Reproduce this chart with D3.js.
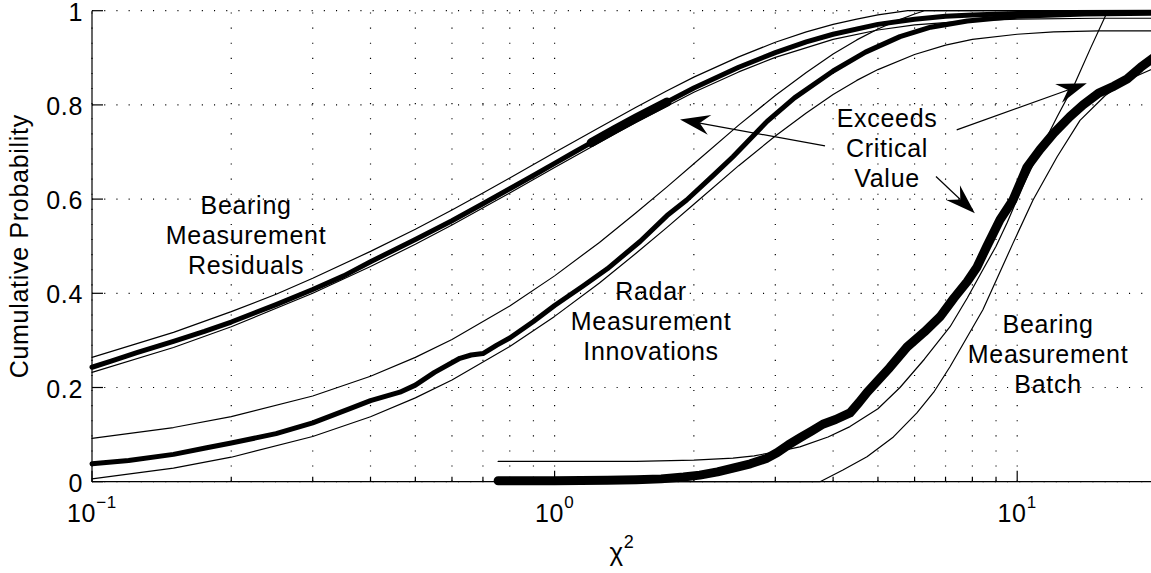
<!DOCTYPE html>
<html>
<head>
<meta charset="utf-8">
<script src="https://cdn.jsdelivr.net/npm/d3@7"></script>
<style>
  html, body { margin: 0; padding: 0; background: #fff; }
  svg { display: block; }
  text { font-family: "Liberation Sans", Arial, Helvetica, sans-serif; fill: #000; letter-spacing: 0.7px; }
</style>
</head>
<body>
<svg id="chart" width="1151" height="573"></svg>
<script>
// ---------- data (x = chi-square value, p = cumulative probability) ----------
const residualsObserved = [[0.1,0.243],[0.11,0.256],[0.125,0.274],[0.15,0.298],[0.175,0.319],[0.2,0.339],[0.25,0.376],[0.3,0.408],[0.35,0.437],[0.4,0.467],[0.45,0.492],[0.5,0.514],[0.6,0.554],[0.7,0.590],[0.8,0.622],[0.9,0.650],[1.0,0.676],[1.1,0.699],[1.2,0.720],[1.35,0.748],[1.5,0.772],[1.75,0.806],[2.0,0.836],[2.5,0.880],[3.0,0.911],[3.5,0.934],[4,0.950],[5,0.971],[6,0.982],[7,0.988],[8,0.991],[10,0.994],[13,0.996],[20,0.997]];
const residualsUpper = [[0.1,0.264],[0.125,0.293],[0.15,0.317],[0.2,0.361],[0.25,0.398],[0.3,0.432],[0.4,0.489],[0.5,0.536],[0.6,0.577],[0.7,0.613],[0.8,0.645],[1,0.699],[1.25,0.752],[1.5,0.795],[1.75,0.830],[2,0.859],[2.5,0.902],[3,0.933],[3.5,0.955],[4,0.971],[4.5,0.982],[5,0.991],[5.5,0.997],[5.8,1.0],[20,1.0]];
const residualsLower = [[0.1,0.232],[0.15,0.285],[0.2,0.329],[0.3,0.400],[0.4,0.457],[0.5,0.504],[0.6,0.545],[0.8,0.613],[1,0.667],[1.25,0.720],[1.5,0.763],[2,0.827],[2.5,0.870],[3,0.901],[4,0.939],[5,0.959],[6,0.970],[8,0.979],[10,0.982],[15,0.984],[20,0.984]];

const radarObserved = [[0.1,0.038],[0.12,0.045],[0.15,0.058],[0.177,0.072],[0.2,0.082],[0.25,0.102],[0.3,0.125],[0.361,0.155],[0.4,0.172],[0.463,0.19],[0.5,0.205],[0.55,0.232],[0.624,0.262],[0.66,0.269],[0.7,0.272],[0.75,0.29],[0.8,0.305],[0.9,0.34],[1.0,0.374],[1.15,0.415],[1.3,0.452],[1.53,0.51],[1.75,0.565],[1.93,0.598],[2.2,0.65],[2.43,0.69],[2.88,0.765],[3.3,0.815],[4.0,0.872],[4.7,0.912],[5.58,0.945],[6.5,0.965],[7.8,0.978],[10,0.988],[14,0.993],[20,0.995]];
const radarUpper = [[0.1,0.092],[0.15,0.115],[0.2,0.138],[0.3,0.182],[0.4,0.224],[0.5,0.264],[0.6,0.302],[0.8,0.373],[1.0,0.437],[1.25,0.508],[1.5,0.571],[1.75,0.626],[2.0,0.675],[2.5,0.757],[3.0,0.820],[3.5,0.869],[4.0,0.908],[4.5,0.938],[5.0,0.961],[5.5,0.979],[6.0,0.993],[6.3,1.0],[20,1.0]];
const radarLower = [[0.1,0.006],[0.15,0.029],[0.2,0.052],[0.3,0.096],[0.4,0.138],[0.5,0.178],[0.6,0.216],[0.8,0.287],[1.0,0.351],[1.25,0.422],[1.5,0.485],[1.75,0.540],[2,0.589],[2.5,0.671],[3,0.734],[3.5,0.783],[4,0.822],[4.5,0.852],[5,0.875],[6,0.907],[7,0.927],[8,0.939],[10,0.950],[12,0.955],[15,0.957],[20,0.957]];

const batchObserved = [[0.755,0.002],[1.0,0.002],[1.3,0.003],[1.5,0.004],[1.7,0.006],[1.9,0.010],[2.06,0.014],[2.25,0.021],[2.43,0.029],[2.65,0.038],[2.88,0.050],[3.03,0.062],[3.2,0.078],[3.39,0.093],[3.6,0.108],[3.8,0.122],[4.05,0.132],[4.35,0.146],[4.55,0.168],[4.74,0.19],[5.0,0.215],[5.3,0.242],[5.78,0.286],[6.3,0.318],[6.81,0.35],[7.3,0.39],[7.8,0.425],[8.19,0.456],[8.6,0.50],[9.18,0.556],[9.79,0.598],[10.5,0.668],[11.2,0.705],[12,0.74],[13,0.775],[13.88,0.80],[15,0.825],[16.2,0.84],[17.28,0.855],[18.5,0.88],[20,0.905]];
const batchUpper = [[0.755,0.043],[1.0,0.043],[1.5,0.043],[2.0,0.046],[2.43,0.05],[2.7,0.055],[3.03,0.064],[3.39,0.074],[3.9,0.095],[4.35,0.117],[5.0,0.155],[5.58,0.2],[6.3,0.26],[7.16,0.329],[7.8,0.39],[8.43,0.45],[9.0,0.50],[9.51,0.55],[10.2,0.62],[11.03,0.69],[12.2,0.775],[13.33,0.846],[14.4,0.92],[15.7,1.0],[20,1.0]];
const batchLower = [[0.755,0],[3.748,0],[4.2,0.025],[4.735,0.053],[5.4,0.095],[6.07,0.146],[6.6,0.19],[7.157,0.244],[8.43,0.365],[9.79,0.506],[10.82,0.598],[12.2,0.69],[13.67,0.767],[15.5,0.82],[17.5,0.855],[20,0.88]];

const yTicks = [0, 0.2, 0.4, 0.6, 0.8, 1];
const yTickLabels = ["0", "0.2", "0.4", "0.6", "0.8", "1"];
const xMajorTicks = [0.1, 1, 10];
const xMajorExponents = ["\u22121", "0", "1"];
const xMinorTicks = [0.2,0.3,0.4,0.5,0.6,0.7,0.8,0.9,2,3,4,5,6,7,8,9,20];

const labels = [
  {x: 0.2153, p: 0.569, lines: ["Bearing", "Measurement", "Residuals"]},
  {x: 1.616,  p: 0.386, lines: ["Radar", "Measurement", "Innovations"]},
  {x: 5.232,  p: 0.754, lines: ["Exceeds", "Critical", "Value"]},
  {x: 11.66,  p: 0.316, lines: ["Bearing", "Measurement", "Batch"]}
];
const arrows = [
  {from: [3.842, 0.713], to: [1.867, 0.769]},
  {from: [7.40, 0.747],  to: [14.14, 0.846]},
  {from: [6.675, 0.648], to: [8.10, 0.570]}
];

// ---------- layout ----------
const svg = d3.select("#chart");
const plotLeft = 92, plotBottom = 481.7, plotTop = 10.7, decade = 462.6;
const x = d3.scaleLog().domain([0.1, 20]).range([plotLeft, plotLeft + decade * Math.log10(200)]);
const y = d3.scaleLinear().domain([0, 1]).range([plotBottom, plotTop]);
const xEnd = x.range()[1];

// grid
const grid = svg.append("g").attr("stroke", "#000").attr("stroke-width", 1.2);
grid.selectAll("line.h").data(yTicks).join("line")
  .attr("x1", plotLeft).attr("x2", xEnd).attr("y1", d => y(d)).attr("y2", d => y(d))
  .attr("stroke-dasharray", "1.1,11.1");
grid.selectAll("line.v").data(xMajorTicks.concat(xMinorTicks)).join("line")
  .attr("y1", plotBottom).attr("y2", plotTop).attr("x1", d => x(d)).attr("x2", d => x(d))
  .attr("stroke-dasharray", "1.1,14");

// axes lines
const ax = svg.append("g").attr("stroke", "#000").attr("stroke-width", 1.2);
ax.append("line").attr("x1", plotLeft).attr("x2", plotLeft).attr("y1", plotTop).attr("y2", plotBottom);
ax.append("line").attr("x1", plotLeft).attr("x2", xEnd).attr("y1", plotBottom).attr("y2", plotBottom);
ax.selectAll("line.yt").data(yTicks).join("line")
  .attr("x1", plotLeft).attr("x2", plotLeft + 11).attr("y1", d => y(d)).attr("y2", d => y(d));
ax.selectAll("line.xt").data(xMajorTicks).join("line")
  .attr("x1", d => x(d)).attr("x2", d => x(d)).attr("y1", plotBottom).attr("y2", plotBottom - 11);
ax.selectAll("line.xm").data(xMinorTicks).join("line")
  .attr("x1", d => x(d)).attr("x2", d => x(d)).attr("y1", plotBottom).attr("y2", plotBottom - 5);

// tick labels
svg.append("g").selectAll("text").data(yTicks).join("text")
  .attr("x", 83).attr("y", d => y(d)).attr("dy", "0.4em")
  .attr("text-anchor", "end").attr("font-size", 25)
  .text((d, i) => yTickLabels[i]);
const xl = svg.append("g").selectAll("text").data(xMajorTicks).join("text")
  .attr("x", d => x(d)).attr("y", 522).attr("text-anchor", "middle").attr("font-size", 25);
xl.append("tspan").text("10");
xl.append("tspan").attr("dy", -14).attr("font-size", 17).text((d, i) => xMajorExponents[i]);

// axis titles
const xt = svg.append("text").attr("x", 622).attr("y", 561).attr("text-anchor", "middle").attr("font-size", 26);
xt.append("tspan").text("\u03C7");
xt.append("tspan").attr("dy", -13).attr("font-size", 18).text("2");
svg.append("text").attr("transform", `translate(28,${(plotTop + plotBottom) / 2}) rotate(-90)`)
  .attr("text-anchor", "middle").attr("font-size", 25).text("Cumulative Probability");

// curves
const line = d3.line().x(d => x(d[0])).y(d => y(d[1]));
const curves = svg.append("g").attr("fill", "none").attr("stroke", "#000")
  .attr("stroke-linejoin", "round").attr("stroke-linecap", "round");
[residualsUpper, residualsLower, radarUpper, radarLower, batchUpper, batchLower].forEach(s =>
  curves.append("path").attr("d", line(s)).attr("stroke-width", 1.2));
curves.append("path").attr("d", line(residualsObserved)).attr("stroke-width", 5);
// denser sample region appears heavier in the reference
curves.append("path").attr("d", line(residualsObserved.filter(d => d[0] >= 1.2 && d[0] <= 1.95))).attr("stroke-width", 9);
curves.append("path").attr("d", line(radarObserved)).attr("stroke-width", 5);
curves.append("path").attr("d", line(batchObserved)).attr("stroke-width", 9);

// annotations
const ann = svg.append("g");
labels.forEach(l => {
  const t = ann.append("text").attr("text-anchor", "middle").attr("font-size", 25);
  l.lines.forEach((s, i) => t.append("tspan").attr("x", x(l.x)).attr("y", y(l.p) + i * 30).text(s));
});
arrows.forEach(a => {
  const x0 = x(a.from[0]), y0 = y(a.from[1]), x1 = x(a.to[0]), y1 = y(a.to[1]);
  const ang = Math.atan2(y1 - y0, x1 - x0);
  const L = 30, W = 10, N = 20;
  const ux = Math.cos(ang), uy = Math.sin(ang), px = -uy, py = ux;
  ann.append("line").attr("x1", x0).attr("y1", y0).attr("x2", x1 - ux * N).attr("y2", y1 - uy * N)
    .attr("stroke", "#000").attr("stroke-width", 1.2);
  const pts = [[x1, y1], [x1 - ux * L + px * W, y1 - uy * L + py * W], [x1 - ux * N, y1 - uy * N],
               [x1 - ux * L - px * W, y1 - uy * L - py * W]];
  ann.append("polygon").attr("points", pts.map(p => p.join(",")).join(" ")).attr("fill", "#000");
});
</script>
</body>
</html>
